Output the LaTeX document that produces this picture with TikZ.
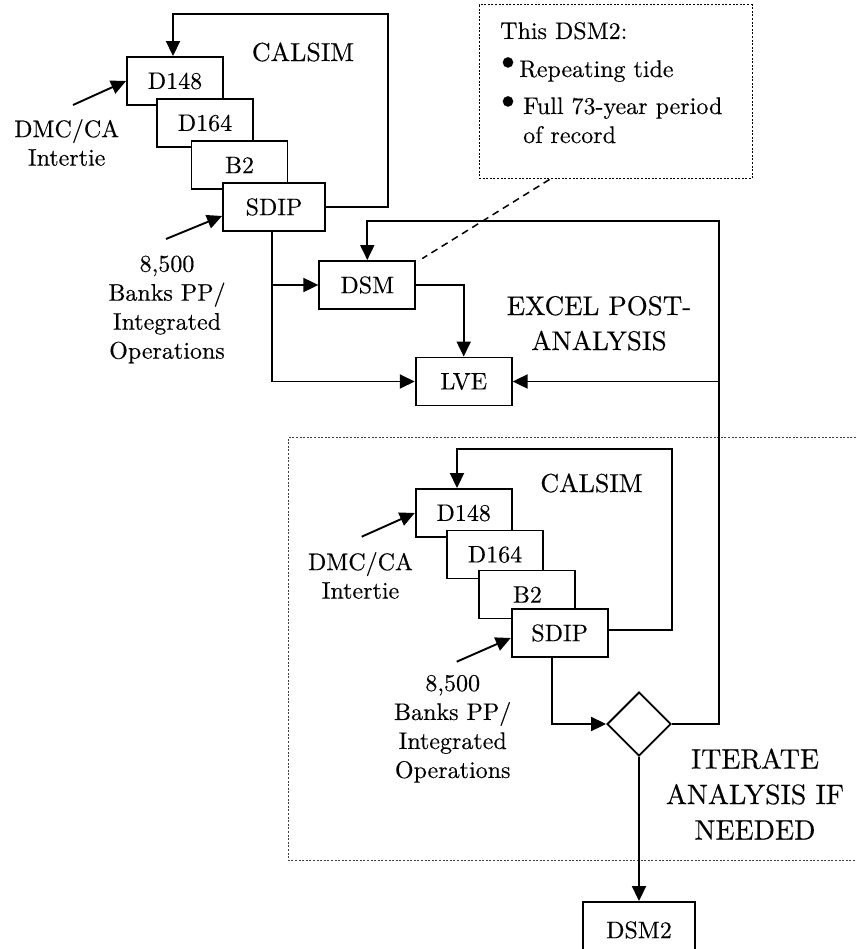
\documentclass[tikz,border=0pt]{standalone}
\usepackage{fontspec}
\setmainfont{lmroman10-regular}[Extension=.otf, FakeBold=0.3]
\usetikzlibrary{arrows.meta,shapes.geometric,calc}
\begin{document}
\begin{tikzpicture}[x=1pt,y=-1pt,
  box/.style={draw, line width=1.9pt, fill=white, minimum width=96pt, minimum height=48pt, inner sep=0pt, font=\fontsize{24}{29}\selectfont},
  lbl/.style={align=center, inner sep=0pt, font=\fontsize{24}{28.5}\selectfont},
  blbl/.style={align=center, inner sep=0pt, font=\fontsize{24}{29}\selectfont},
  head/.style={align=center, inner sep=0pt},
  ctext/.style={anchor=base west, inner sep=0pt, font=\fontsize{24}{29}\selectfont},
  bul/.style={inner sep=0pt, font=\fontsize{36}{36}\selectfont},
  conn/.style={line width=1.9pt},
  arr/.style={conn, -{Triangle[length=15pt,width=14pt]}},
  dotbox/.style={draw, line width=1pt, dash pattern=on 2pt off 1.6pt},
]
\useasboundingbox (0,0) rectangle (856,949);

% ---------- top CALSIM stack ----------
\node[box] (d148a) at (175,81) {D148};
\node[box] (d164a) at (205,123) {D164};
\node[box] (b2a) at (239.5,165) {B2};
\node[box, minimum width=102pt] (sdipa) at (274,207) {SDIP};
\node[head, font=\fontsize{26}{30}\selectfont] (calsima) at (303,52) {CALSIM};

\coordinate (loopa) at (388.3,14);
\draw[arr] (sdipa.east) -| (loopa) -| ([xshift=-2pt]d148a.north);

\coordinate (dmca) at (73,105);
\draw[arr] (dmca) -- (d148a.west);
\node[lbl] (dmclabela) at (66.7,142.5) {DMC/CA\\Intertie};

\coordinate (banksa) at (166,239);
\draw[arr] (banksa) -- ([yshift=-9pt]sdipa.west);
\node[blbl] (bankslabela) at (167,309.5) {8,500\\Banks PP/\\Integrated\\Operations};

% ---------- callout ----------
\node[dotbox, minimum width=273pt, minimum height=174pt, inner sep=0pt] (callout) at (615.5,92) {};
\node[ctext] (ct1) at (500,39) {This DSM2:};
\node[bul] (cb1) at (508,64) {\textbullet};
\node[ctext] (ct2) at (519,77) {Repeating tide};
\node[bul] (cb2) at (508,103) {\textbullet};
\node[ctext] (ct3) at (523,114) {Full 73-year period};
\node[ctext] (ct4) at (523,143) {of record};

% ---------- DSM / LVE ----------
\node[box] (dsm) at (367.3,285) {DSM};
\node[box] (lve) at (463.7,381.5) {LVE};
\coordinate (sa) at ([xshift=-2.3pt]sdipa.south);
\draw[arr] (sa) |- (lve.west);
\draw[arr] (sa |- dsm.west) -- (dsm.west);
\draw[arr] (dsm.east) -| (lve.north);
\node[head, font=\fontsize{27}{35}\selectfont] (excel) at (599,323.3) {EXCEL POST-\\ANALYSIS};

\draw[line width=1.5pt, dash pattern=on 7pt off 5pt] ([xshift=71pt]callout.south west) -- ([shift={(6,-1.5)}]dsm.north east);

% ---------- bottom frame ----------
\draw[dotbox, black!75] (856,437.7) -- (288,437.7) -- (288,860) -- (856,860);

% ---------- bottom CALSIM stack ----------
\node[box] (d148b) at (463.7,513) {D148};
\node[box] (d164b) at (495,554.5) {D164};
\node[box] (b2b) at (527.4,594.5) {B2};
\node[box] (sdipb) at (559.7,633) {SDIP};
\node[head, font=\fontsize{26}{30}\selectfont] (calsimb) at (591.5,483) {CALSIM};

\coordinate (loopb) at (672,449);
\draw[arr] ([yshift=3pt]sdipb.east) -| (loopb) -| ([xshift=-6.7pt]d148b.north);

\coordinate (dmcb) at (361.7,536.7);
\draw[arr] (dmcb) -- (d148b.west);
\node[lbl] (dmclabelb) at (360.5,575.5) {DMC/CA\\Intertie};

\coordinate (banksb) at (456.7,661.7);
\draw[arr] (banksb) -- ([yshift=-5pt]sdipb.west);
\node[blbl] (bankslabelb) at (452.7,728.8) {8,500\\Banks PP/\\Integrated\\Operations};

% ---------- decision ----------
\node[draw, diamond, line width=1.9pt, minimum width=64pt, minimum height=64pt, inner sep=0pt, shape aspect=1] (dia) at (639,724) {};
\coordinate (sb) at ([xshift=-8pt]sdipb.south);
\draw[arr] (sb) |- (dia.west);
\coordinate (rt) at (719.3,220.7);
\draw[arr] (dia.east) -| (rt) -| (dsm.north);
\draw[arr] (rt |- lve.east) -- (lve.east);

\node[head, font=\fontsize{28}{35.5}\selectfont] (iter) at (755,794) {ITERATE\\ANALYSIS IF\\NEEDED};

\node[box, minimum width=112pt, minimum height=56pt] (dsm2) at (639,930) {DSM2};
\draw[arr] (dia.south) -- (dsm2.north);
\end{tikzpicture}
\end{document}
